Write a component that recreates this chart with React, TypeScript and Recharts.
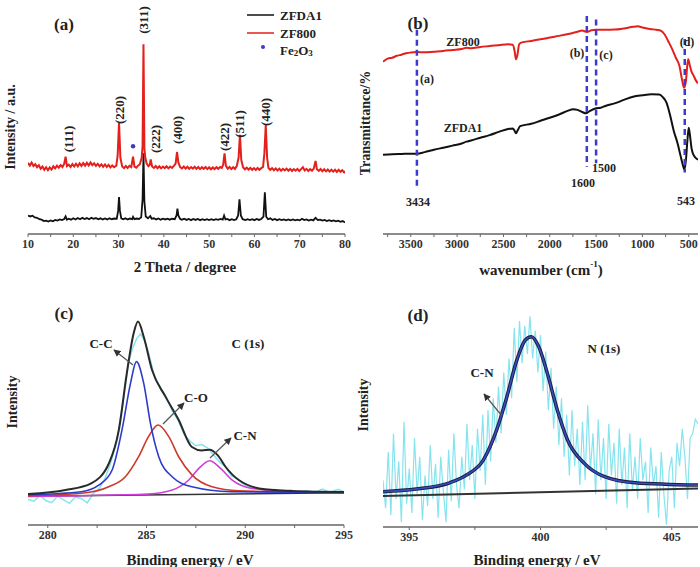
import React from 'react';
import {
  LineChart, Line, XAxis, YAxis, ReferenceLine, ReferenceDot,
} from 'recharts';

const FONT = '"Liberation Serif", "DejaVu Serif", serif';
const FRAME = '#666';
const CYAN = '#86e4ee';

// (a) XRD patterns, [2theta, intensity]
const zfda1: [number, number][] = [
  [10, 8], [10.5, 7.6], [11, 7.9], [11.5, 7.2], [12, 7], [12.5, 6.4], [13, 6.2], [13.5, 5.6], [14, 5.8], [14.5, 5.4],
  [15, 5.9], [15.5, 5.5], [16, 6.1], [16.5, 5.8], [17, 6.3], [17.5, 6], [18, 6.5], [18.3, 7.6], [18.6, 6.2], [19, 6.6],
  [19.5, 6.2], [20, 6.8], [20.5, 6.3], [21, 6.9], [21.5, 6.4], [22, 7], [22.5, 6.5], [23, 6.9], [23.5, 6.4], [24, 7],
  [24.5, 6.6], [25, 6.9], [25.5, 6.4], [26, 6.8], [26.5, 6.3], [27, 6.7], [27.5, 6.3], [28, 6.8], [28.5, 6.4], [29, 6.7],
  [29.6, 6.6], [29.9, 10], [30.1, 16], [30.3, 10], [30.6, 6.8], [31, 6.4], [31.5, 6.8], [32, 6.3], [32.5, 6.7], [33, 6.4],
  [33.2, 7.4], [33.5, 6.4], [34, 6.7], [34.5, 6.5], [35, 7.2], [35.3, 15], [35.5, 35], [35.7, 14], [36, 7.6], [36.5, 6.8],
  [37, 7.8], [37.3, 6.6], [37.8, 6.8], [38.3, 6.3], [38.8, 6.7], [39.3, 6.2], [39.8, 6.6], [40.3, 6.3], [40.8, 6.6], [41.3, 6.2],
  [41.8, 6.6], [42.4, 6.4], [42.8, 8], [43, 11], [43.2, 8], [43.6, 6.5], [44, 6.2], [44.5, 6.6], [45, 6.1], [45.5, 6.5],
  [46, 6], [46.5, 6.5], [47, 6.1], [47.5, 6.5], [48, 6], [48.5, 6.4], [49, 6], [49.5, 6.4], [50, 6], [50.5, 6.4],
  [51, 6], [51.5, 6.4], [52, 6.1], [52.5, 6.5], [53, 6.2], [53.3, 8], [53.6, 6.3], [54, 6.5], [54.5, 6], [55, 6.4],
  [55.5, 6], [56, 6.4], [56.4, 8], [56.7, 15], [57, 8], [57.4, 6.4], [58, 6], [58.5, 6.4], [59, 6], [59.5, 6.4],
  [60, 6], [60.5, 6.5], [61, 6.1], [61.5, 6.5], [62, 7.5], [62.3, 18], [62.6, 7.5], [63, 6.4], [63.5, 6.8], [64, 6.1],
  [64.5, 6.5], [65, 6], [65.5, 6.4], [66, 6], [66.5, 6.3], [67, 5.9], [67.5, 6.3], [68, 5.9], [68.5, 6.3], [69, 5.9],
  [69.5, 6.2], [70, 5.9], [70.5, 6.6], [71, 6], [71.5, 6.3], [72, 5.8], [72.5, 6.2], [73, 5.9], [73.5, 7], [74, 6],
  [74.5, 6.2], [75, 5.8], [75.5, 6.1], [76, 5.6], [76.5, 6], [77, 5.6], [77.5, 5.9], [78, 5.5], [78.5, 5.8], [79, 5.3],
  [79.5, 5.6], [80, 5],
];

const zf800: [number, number][] = [
  [10, 30.8], [10.4, 29.6], [10.8, 30.9], [11.2, 29.4], [11.6, 30.2], [12, 28.9], [12.4, 29.8], [12.8, 28.3], [13.2, 29.2], [13.6, 27.8],
  [14, 28.9], [14.4, 27.6], [14.8, 28.8], [15.2, 27.9], [15.6, 29.3], [16, 28.4], [16.4, 29.6], [16.8, 28.7], [17.2, 29.8], [17.6, 29],
  [18, 30.4], [18.3, 33.5], [18.6, 29.4], [19, 30], [19.4, 29], [19.8, 30.3], [20.2, 29.2], [20.6, 30.4], [21, 29.3], [21.4, 30.6],
  [21.8, 29.5], [22.2, 30.7], [22.6, 29.6], [23, 30.8], [23.4, 29.7], [23.8, 31], [24.2, 29.8], [24.6, 30.6], [25, 29.5], [25.4, 30.4],
  [25.8, 29.3], [26.2, 30.2], [26.6, 29.1], [27, 30.1], [27.4, 29], [27.8, 29.9], [28.2, 28.8], [28.6, 29.7], [29, 28.9], [29.5, 29.6],
  [29.8, 34], [30.1, 48.2], [30.4, 33], [30.8, 29.2], [31.2, 28.5], [31.6, 29.4], [32, 28.6], [32.4, 29.5], [32.8, 29], [33.2, 33.5],
  [33.5, 29.2], [33.9, 28.7], [34.3, 29.6], [34.7, 30.2], [35.1, 33], [35.3, 38], [35.5, 82.1], [35.7, 37], [35.9, 33], [36.2, 30.5],
  [36.6, 29.4], [36.9, 30], [37.1, 32.3], [37.4, 29.2], [37.8, 28.6], [38.2, 29.4], [38.6, 28.5], [39, 29.3], [39.4, 28.4], [39.8, 29.2],
  [40.2, 28.5], [40.6, 29.3], [41, 28.4], [41.4, 29.2], [41.8, 28.6], [42.2, 29.5], [42.6, 30.5], [42.9, 35.5], [43.2, 31], [43.6, 29],
  [44, 28.4], [44.4, 29.2], [44.8, 28.3], [45.2, 29.1], [45.6, 28.2], [46, 29], [46.4, 28.3], [46.8, 29.1], [47.2, 28.2], [47.6, 29],
  [48, 28.1], [48.4, 28.9], [48.8, 28.2], [49.2, 29], [49.6, 28.1], [50, 28.9], [50.4, 28], [50.8, 28.8], [51.2, 28.1], [51.6, 28.9],
  [52, 28.2], [52.4, 29], [52.8, 28.6], [53.1, 30], [53.4, 34.9], [53.7, 29.5], [54.1, 28.3], [54.5, 29], [54.9, 28.1], [55.3, 28.9],
  [55.7, 28.2], [56.1, 29.4], [56.5, 33], [56.8, 42.9], [57.1, 32], [57.5, 28.8], [57.9, 28], [58.3, 28.7], [58.7, 27.9], [59.1, 28.6],
  [59.5, 27.8], [59.9, 28.5], [60.3, 27.7], [60.7, 28.6], [61.1, 27.8], [61.5, 28.5], [61.9, 29], [62.2, 35], [62.5, 47.2], [62.8, 33],
  [63.1, 28.6], [63.5, 27.8], [63.9, 28.5], [64.3, 27.6], [64.7, 28.4], [65.1, 27.5], [65.5, 28.3], [65.9, 27.4], [66.3, 28.2], [66.7, 27.5],
  [67.1, 28.3], [67.5, 27.4], [67.9, 28.2], [68.3, 27.3], [68.7, 28.1], [69.1, 27.4], [69.5, 28.2], [69.9, 27.3], [70.3, 28.1], [70.7, 28.9],
  [71.1, 27.5], [71.5, 28.2], [71.9, 27.3], [72.3, 28.1], [72.7, 27.4], [73.1, 28.3], [73.5, 31.6], [73.8, 28], [74.2, 27.3], [74.6, 28.1],
  [75, 27.2], [75.4, 28], [75.8, 27.1], [76.2, 27.9], [76.6, 27], [77, 27.8], [77.4, 27], [77.8, 27.8], [78.2, 26.9], [78.6, 27.8],
  [79, 26.9], [79.4, 27.6], [79.8, 26.7], [80, 27.2],
];
const fe2o3Peak: [number, number] = [33.2, 38];
const xrdTicks = [10, 15, 20, 25, 30, 35, 40, 45, 50, 55, 60, 65, 70, 75, 80];

// (b) FTIR spectra, [wavenumber, transmittance]
const ftirZf800: [number, number][] = [
  [3800, 74.2], [3750, 75.6], [3700, 76], [3650, 76.8], [3600, 77.3], [3550, 77.9], [3500, 78.2], [3434, 78.4], [3350, 78.3], [3250, 78.6],
  [3150, 78.9], [3050, 79.3], [2950, 79.7], [2900, 80.3], [2850, 80.1], [2750, 80.6], [2650, 81], [2550, 81.4], [2450, 81.8], [2400, 81.6],
  [2380, 79], [2365, 75.3], [2350, 77], [2330, 81.8], [2300, 82.6], [2200, 83.2], [2100, 83.9], [2000, 84.7], [1900, 85.4], [1800, 86.2],
  [1700, 87.2], [1650, 87.7], [1600, 87.1], [1550, 87.8], [1500, 88], [1400, 88], [1300, 88.1], [1200, 88.6], [1100, 89.3], [1050, 89.5],
  [1000, 89], [950, 88.6], [900, 88.3], [850, 88], [800, 87.6], [760, 86], [720, 83], [680, 79.8], [640, 76], [600, 72.4],
  [570, 66], [550, 63], [530, 66], [515, 73], [505, 75.3], [490, 73], [470, 70], [450, 68.5], [420, 66], [400, 65],
];
const ftirZfda1: [number, number][] = [
  [3800, 34.2], [3700, 34.4], [3600, 34.5], [3500, 34.6], [3434, 34.6], [3350, 35.3], [3250, 36.3], [3150, 37.2], [3050, 38.1], [2950, 39],
  [2900, 39.8], [2850, 40.3], [2750, 41.5], [2650, 42.6], [2550, 44], [2450, 45.3], [2400, 45.5], [2380, 44.5], [2365, 43.4], [2345, 44.8],
  [2320, 46.5], [2200, 47.5], [2100, 48.8], [2000, 50.1], [1900, 51.5], [1800, 53.2], [1750, 53.8], [1700, 53.5], [1650, 52.6], [1610, 52],
  [1570, 53], [1500, 54.2], [1450, 54.4], [1400, 55.2], [1300, 56.3], [1200, 57.8], [1100, 59.2], [1000, 59.8], [900, 60.2], [820, 60.1],
  [780, 59], [740, 56.6], [700, 51], [660, 44.2], [620, 39], [590, 34], [565, 30], [547, 27.7], [530, 32], [515, 40],
  [500, 45.8], [485, 42], [470, 37], [457, 34.9], [430, 33], [400, 32],
];
// dashed markers: wavenumber, top, bottom
const ftirMarks: [number, number, number][] = [
  [3434, 88, 20], [1600, 94, 29], [1500, 92.5, 30.5], [543, 84, 26.5],
];
const ftirTicks = [500, 750, 1000, 1250, 1500, 1750, 2000, 2250, 2500, 2750, 3000, 3250, 3500, 3750];

// (c) C 1s XPS, [binding energy, intensity]
const c1sRaw: [number, number][] = [
  [279, 11], [279.3, 10.2], [279.6, 12.8], [279.9, 10.5], [280.2, 9.6], [280.5, 12.4], [280.8, 10.8], [281.1, 9.3], [281.4, 12], [281.7, 11.4],
  [282, 9.5], [282.3, 13.5], [282.6, 15.6], [282.9, 20], [283.2, 27], [283.5, 36], [283.8, 52], [284.1, 70], [284.3, 76], [284.5, 80],
  [284.7, 82], [284.9, 79], [285.1, 74], [285.4, 64], [285.7, 59], [286, 55], [286.3, 49], [286.6, 45], [286.9, 39], [287.2, 36],
  [287.5, 34], [287.8, 34.5], [288.1, 33], [288.4, 30], [288.7, 27], [289, 25], [289.3, 21], [289.6, 20], [289.9, 17.5], [290.3, 16],
  [290.7, 15.6], [291.1, 14.5], [291.5, 15.2], [291.9, 14.2], [292.3, 15], [292.7, 14.1], [293.1, 14.8], [293.5, 13.9], [293.9, 15.4], [294.3, 14],
  [294.7, 15.3], [295, 14.2],
];
const c1sEnvelope: [number, number][] = [
  [279, 13.3], [280.9, 15], [282.2, 17.9], [283.1, 26.5], [283.6, 40.8], [284, 65], [284.35, 82.3], [284.57, 87.3], [284.86, 80.8], [285.28, 66.5],
  [285.96, 55.1], [286.63, 45.1], [287.3, 33.5], [287.8, 32], [288.2, 32.3], [288.6, 30], [289, 25], [289.67, 19.3], [291, 15.3], [292.7, 14.5],
  [295, 14.2],
];
const c1sCC: [number, number][] = [
  [279, 13], [281.7, 14.3], [282.6, 17.2], [283.26, 23.6], [283.76, 40.8], [284.19, 60.8], [284.49, 70.1], [284.86, 60.8], [285.2, 43.6], [285.62, 29.3],
  [286.3, 20.7], [287.3, 16.4], [289.3, 14.3], [295, 13.9],
];
const c1sCO: [number, number][] = [
  [279, 12.5], [281.7, 13.6], [283.09, 16.4], [283.93, 20.7], [284.6, 29.3], [285.1, 37.9], [285.59, 42.9], [286.13, 37.9], [286.63, 29.3], [287.3, 21.5],
  [288.32, 16.4], [289.67, 14.7], [295, 13.9],
];
const c1sCN: [number, number][] = [
  [279, 12.3], [285.1, 13.3], [286.3, 15], [287.14, 19.3], [287.65, 24.3], [288.2, 27.6], [288.75, 24.3], [289.34, 19.3], [290.35, 15.7], [291.87, 14.6],
  [295, 13.9],
];
const c1sBase: [number, number][] = [[279, 12.3], [295, 13.8]];
const c1sTicks = [280, 282.5, 285, 287.5, 290, 292.5, 295];

// (d) N 1s XPS
const n1sRaw: [number, number][] = [
  [394, 20], [394.1, 8], [394.2, 32], [394.3, 5], [394.4, 40], [394.5, 12], [394.6, 28], [394.7, 2], [394.8, 45], [394.9, 10],
  [395, 25], [395.1, 6], [395.2, 38], [395.3, 14], [395.4, 30], [395.5, 3], [395.6, 22], [395.7, 9], [395.8, 35], [395.9, 12],
  [396, 27], [396.1, 4], [396.2, 30], [396.3, 15], [396.4, 2], [396.5, 33], [396.6, 11], [396.7, 40], [396.8, 18], [396.9, 8],
  [397, 30], [397.1, 16], [397.2, 44], [397.3, 20], [397.4, 35], [397.5, 12], [397.6, 42], [397.7, 24], [397.8, 48], [397.9, 18],
  [398, 50], [398.1, 28], [398.2, 55], [398.3, 36], [398.4, 60], [398.5, 40], [398.6, 66], [398.7, 48], [398.8, 72], [398.9, 55],
  [399, 85], [399.1, 62], [399.2, 88], [399.3, 70], [399.4, 86], [399.5, 74], [399.6, 90], [399.7, 72], [399.8, 84], [399.9, 66],
  [400, 82], [400.1, 58], [400.2, 75], [400.3, 50], [400.4, 68], [400.5, 42], [400.6, 60], [400.7, 35], [400.8, 55], [400.9, 30],
  [401, 48], [401.1, 22], [401.2, 50], [401.3, 26], [401.4, 42], [401.5, 18], [401.6, 45], [401.7, 20], [401.8, 52], [401.9, 24],
  [402, 40], [402.1, 14], [402.2, 46], [402.3, 20], [402.4, 38], [402.5, 12], [402.6, 44], [402.7, 22], [402.8, 36], [402.9, 10],
  [403, 42], [403.1, 18], [403.2, 34], [403.3, 8], [403.4, 40], [403.5, 16], [403.6, 30], [403.7, 12], [403.8, 38], [403.9, 20],
  [404, 28], [404.1, 6], [404.2, 34], [404.3, 18], [404.4, 26], [404.5, 4], [404.6, 32], [404.7, 14], [404.8, 1], [404.9, 24],
  [405, 30], [405.1, 8], [405.2, 36], [405.3, 26], [405.4, 42], [405.5, 30], [405.6, 12], [405.7, 38], [405.8, 40], [405.9, 46],
  [406, 44],
];
const n1sFit: [number, number][] = [
  [394, 15.1], [395.26, 16.2], [396.54, 18.9], [397.18, 22.2], [397.82, 28.6], [398.33, 41.5], [398.72, 55.7], [399.1, 71.4], [399.42, 79.9], [399.65, 81.3],
  [399.93, 77.1], [400.26, 65.7], [400.64, 50], [401.03, 37.2], [401.67, 27.2], [402.44, 21.5], [403.6, 18.9], [406, 17.9],
];
const n1sBase: [number, number][] = [[394, 13.2], [406, 16.5]];
const n1sTicks = [395, 397.5, 400, 402.5, 405];

const rows = (pts: [number, number][]) => pts.map(([x, y]) => ({ x, y }));

const tickStyle = { fontSize: 12, fontWeight: 700, fill: '#333', fontFamily: FONT };

function every(step: number) {
  return (v: number) => (Math.abs(v / step - Math.round(v / step)) < 1e-6 ? String(v) : '');
}

function Panel({ left, top, width, height, margin, domain, ticks, fmt, reversed, children }: any) {
  return (
    <div style={{ position: 'absolute', left, top }}>
      <LineChart width={width} height={height} margin={margin}>
        <XAxis dataKey="x" type="number" domain={domain} ticks={ticks} tickFormatter={fmt} reversed={reversed}
          allowDataOverflow height={20} tick={tickStyle} tickSize={3} tickLine={{ stroke: FRAME }} axisLine={{ stroke: FRAME, strokeWidth: 1.5 }}
          interval={0} />
        <XAxis xAxisId="t" orientation="top" type="number" domain={domain} reversed={reversed} height={0} tick={false} tickLine={false}
          axisLine={{ stroke: FRAME, strokeWidth: 1.5 }} />
        <YAxis type="number" domain={[0, 100]} allowDataOverflow width={0} tick={false} tickLine={false} axisLine={{ stroke: FRAME, strokeWidth: 1.5 }} />
        <YAxis yAxisId="r" orientation="right" type="number" domain={[0, 100]} width={0} tick={false} tickLine={false}
          axisLine={{ stroke: FRAME, strokeWidth: 1.5 }} />
        {children}
      </LineChart>
    </div>
  );
}

const txt = { fontFamily: FONT, fontWeight: 700, fill: '#222' } as const;

function Label({ x, y, size = 12, rot, children }: any) {
  return (
    <text x={rot ? 0 : x} y={rot ? 0 : y} transform={rot ? `translate(${x},${y}) rotate(-90)` : undefined}
      textAnchor="middle" dominantBaseline="central" fontSize={size} style={txt}>
      {children}
    </text>
  );
}

export default function App() {
  return (
    <div style={{ position: 'absolute', left: 0, top: 0, width: 700, height: 567, background: '#fff' }}>
      <style>{'.recharts-surface { overflow: visible; }'}</style>
      <Panel left={0} top={0} width={350} height={290} margin={{ top: 3, right: 5, left: 28, bottom: 36 }}
        domain={[10, 80]} ticks={xrdTicks} fmt={every(10)}>
        <Line data={rows(zfda1)} dataKey="y" stroke="#111" strokeWidth={1.8} dot={false} isAnimationActive={false} />
        <Line data={rows(zf800)} dataKey="y" stroke="#e3201c" strokeWidth={2} dot={false} isAnimationActive={false} />
        <ReferenceDot x={fe2o3Peak[0]} y={fe2o3Peak[1]} r={2.2} fill="#3b3bc4" stroke="none" />
      </Panel>

      <Panel left={350} top={0} width={350} height={290} margin={{ top: 2, right: 2, left: 33, bottom: 36 }}
        domain={[400, 3800]} ticks={ftirTicks} fmt={every(500)} reversed>
        <Line data={rows(ftirZf800)} dataKey="y" type="monotone" stroke="#e3201c" strokeWidth={2} dot={false} isAnimationActive={false} />
        <Line data={rows(ftirZfda1)} dataKey="y" type="monotone" stroke="#111" strokeWidth={2} dot={false} isAnimationActive={false} />
        {ftirMarks.map(([w, y1, y2]) => (
          <ReferenceLine key={w} segment={[{ x: w, y: y1 }, { x: w, y: y2 }]} stroke="#3b3bd0" strokeWidth={2.5} strokeDasharray="6 4" />
        ))}
      </Panel>

      <Panel left={0} top={290} width={350} height={277} margin={{ top: 2, right: 6, left: 28, bottom: 22 }}
        domain={[279, 295]} ticks={c1sTicks} fmt={every(5)}>
        <Line data={rows(c1sRaw)} dataKey="y" stroke={CYAN} strokeWidth={1.5} dot={false} isAnimationActive={false} />
        <Line data={rows(c1sBase)} dataKey="y" stroke="#333" strokeWidth={1.5} dot={false} isAnimationActive={false} />
        <Line data={rows(c1sCN)} dataKey="y" type="monotone" stroke="#d13ddb" strokeWidth={1.6} dot={false} isAnimationActive={false} />
        <Line data={rows(c1sCO)} dataKey="y" type="monotone" stroke="#cc3a2c" strokeWidth={1.6} dot={false} isAnimationActive={false} />
        <Line data={rows(c1sCC)} dataKey="y" type="monotone" stroke="#2c3cc8" strokeWidth={1.6} dot={false} isAnimationActive={false} />
        <Line data={rows(c1sEnvelope)} dataKey="y" type="monotone" stroke="#2a2a2a" strokeWidth={2} dot={false} isAnimationActive={false} />
      </Panel>

      <Panel left={350} top={290} width={350} height={277} margin={{ top: 3, right: 2, left: 33, bottom: 20 }}
        domain={[394, 406]} ticks={n1sTicks} fmt={every(5)}>
        <Line data={rows(n1sRaw)} dataKey="y" stroke={CYAN} strokeWidth={1.2} dot={false} isAnimationActive={false} />
        <Line data={rows(n1sBase)} dataKey="y" stroke="#333" strokeWidth={2} dot={false} isAnimationActive={false} />
        <Line data={rows(n1sFit)} dataKey="y" type="monotone" stroke="#1c1c3c" strokeWidth={3.5} dot={false} isAnimationActive={false} />
        <Line data={rows(n1sFit)} dataKey="y" type="monotone" stroke="#3b4bbf" strokeWidth={1.6} dot={false} isAnimationActive={false} />
      </Panel>

      <svg width={700} height={567} style={{ position: 'absolute', left: 0, top: 0, pointerEvents: 'none' }}>
        <defs>
          <marker id="ah" viewBox="0 0 10 10" refX="9" refY="5" markerWidth="6" markerHeight="6" orient="auto">
            <path d="M0,0 L10,5 L0,10 z" fill="#333" />
          </marker>
        </defs>

        {/* (a) */}
        <Label x={64} y={24} size={17}>(a)</Label>
        <Label x={10} y={127} size={14} rot>Intensity / a.u.</Label>
        <Label x={185} y={267} size={15}>2 Theta / degree</Label>
        <Label x={68} y={139} size={13} rot>(111)</Label>
        <Label x={119} y={110} size={13} rot>(220)</Label>
        <Label x={143} y={20} size={13} rot>(311)</Label>
        <Label x={155} y={139} size={13} rot>(222)</Label>
        <Label x={177} y={130} size={13} rot>(400)</Label>
        <Label x={224} y={137} size={13} rot>(422)</Label>
        <Label x={239} y={124} size={13} rot>(511)</Label>
        <Label x={265} y={112} size={13} rot>(440)</Label>
        <line x1={247} x2={274} y1={15} y2={15} stroke="#111" strokeWidth={1.5} />
        <line x1={247} x2={274} y1={33} y2={33} stroke="#e3201c" strokeWidth={1.5} />
        <circle cx={263} cy={47} r={2} fill="#3b3bc4" />
        <text x={280} y={15} dominantBaseline="central" fontSize={13} style={txt}>ZFDA1</text>
        <text x={280} y={33} dominantBaseline="central" fontSize={13} style={txt}>ZF800</text>
        <text x={280} y={50} dominantBaseline="central" fontSize={13} style={txt}>Fe<tspan fontSize={9} dy={3}>2</tspan><tspan dy={-3}>O</tspan><tspan fontSize={9} dy={3}>3</tspan></text>

        {/* (b) */}
        <Label x={418} y={23} size={17}>(b)</Label>
        <Label x={365} y={123} size={14} rot>Transmittance/%</Label>
        <text x={541} y={270} textAnchor="middle" dominantBaseline="central" fontSize={15} style={txt}>
          wavenumber (cm<tspan fontSize={9} dy={-6}>-1</tspan><tspan dy={6}>)</tspan>
        </text>
        <Label x={463} y={42}>ZF800</Label>
        <Label x={463} y={128}>ZFDA1</Label>
        <Label x={427} y={79}>(a)</Label>
        <Label x={577} y={53}>(b)</Label>
        <Label x={606} y={55}>(c)</Label>
        <Label x={687} y={42}>(d)</Label>
        <Label x={418} y={202}>3434</Label>
        <Label x={583} y={183}>1600</Label>
        <Label x={604} y={168}>1500</Label>
        <Label x={686} y={201}>543</Label>

        {/* (c) */}
        <Label x={64} y={313} size={17}>(c)</Label>
        <Label x={12} y={402} size={14} rot>Intensity</Label>
        <Label x={190} y={560} size={15}>Binding energy / eV</Label>
        <Label x={101} y={343} size={13}>C-C</Label>
        <Label x={248} y={343} size={13}>C (1s)</Label>
        <Label x={196} y={397} size={13}>C-O</Label>
        <Label x={245} y={435} size={13}>C-N</Label>
        <line x1={133} y1={365} x2={114} y2={350} stroke="#555" strokeWidth={1.2} markerEnd="url(#ah)" />
        <line x1={163} y1={424} x2={184} y2={403} stroke="#555" strokeWidth={1.2} markerEnd="url(#ah)" />
        <line x1={210} y1={458} x2={231} y2={438} stroke="#555" strokeWidth={1.2} markerEnd="url(#ah)" />

        {/* (d) */}
        <Label x={418} y={315} size={17}>(d)</Label>
        <Label x={363} y={405} size={14} rot>Intensity</Label>
        <Label x={537} y={560} size={15}>Binding energy / eV</Label>
        <Label x={604} y={348} size={13}>N (1s)</Label>
        <Label x={482} y={372} size={13}>C-N</Label>
        <line x1={502} y1={416} x2={484} y2={394} stroke="#555" strokeWidth={1.2} markerEnd="url(#ah)" />
      </svg>
    </div>
  );
}
